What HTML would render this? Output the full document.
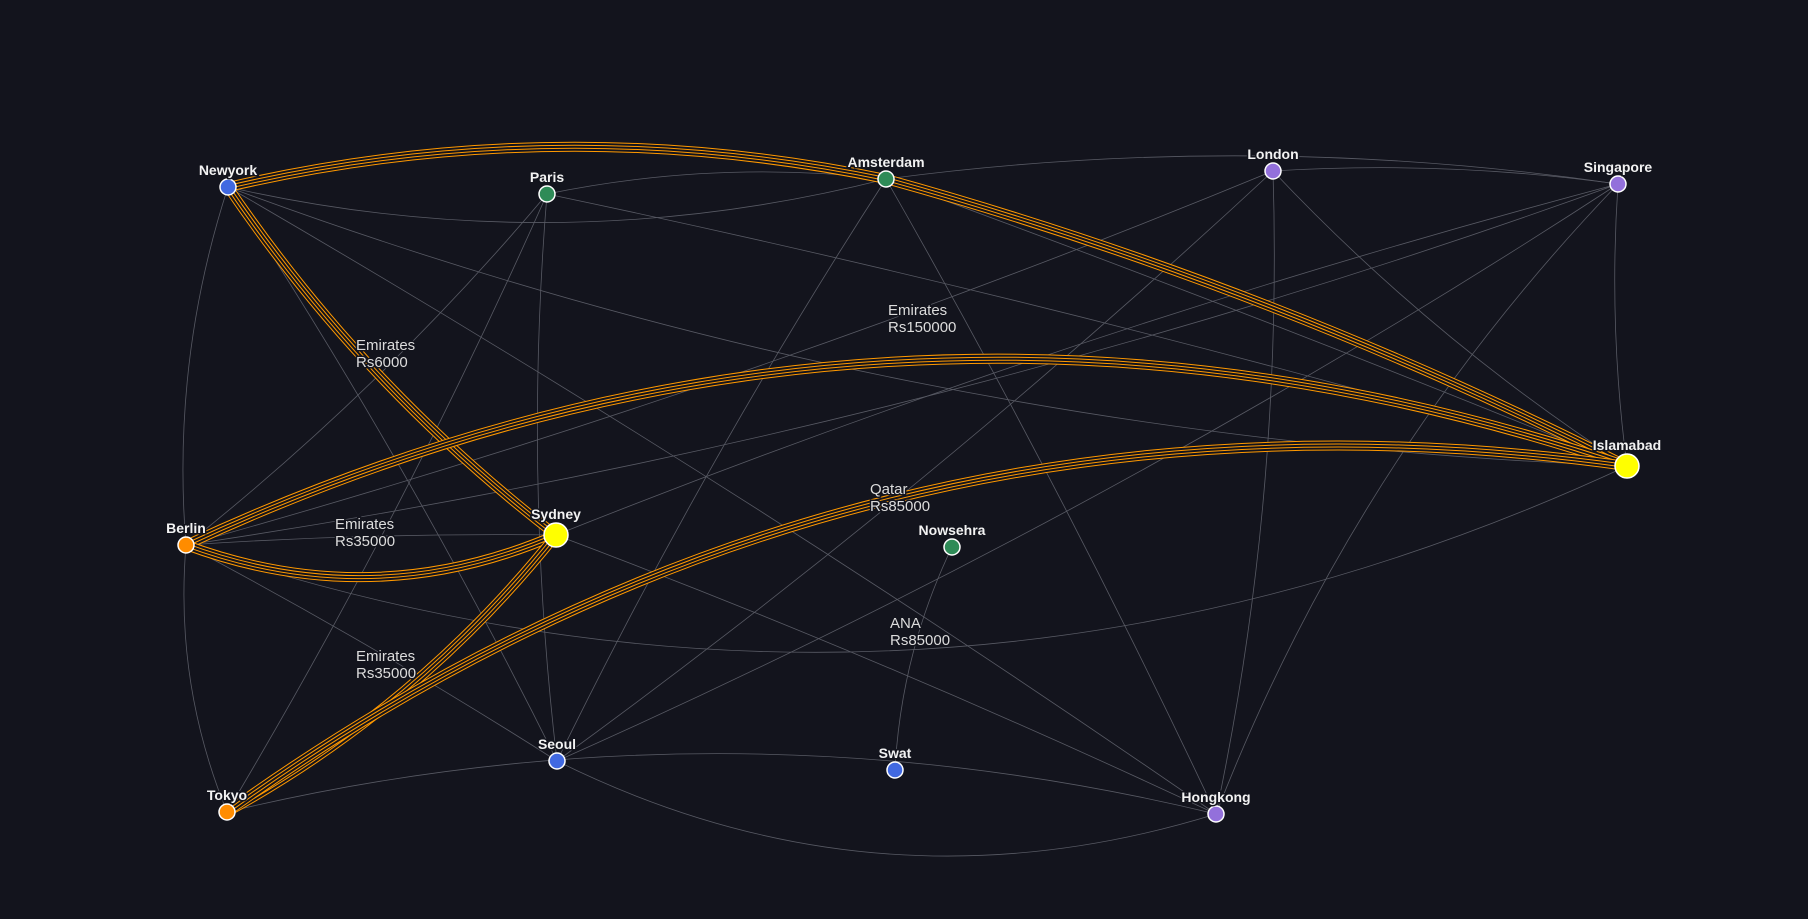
<!DOCTYPE html>
<html><head><meta charset="utf-8"><style>
html,body{margin:0;padding:0;background:#13141d;}
svg{display:block;}
.nl{font-family:"Liberation Sans",sans-serif;font-weight:bold;font-size:14px;fill:#f2f2f2;stroke:#13141d;stroke-width:3px;paint-order:stroke;text-anchor:middle;}
.el{font-family:"Liberation Sans",sans-serif;font-size:15px;fill:#dcdcdc;stroke:#13141d;stroke-width:3px;paint-order:stroke;}
</style></head><body>
<svg id="chart" width="1808" height="919" viewBox="0 0 1808 919">
<rect width="1808" height="919" fill="#13141d"/>
<g id="edges"></g><g id="hl"></g><g id="elabels"></g><g id="nodes"></g>
</svg>
<script>
const nodeNames=["Newyork","Paris","Amsterdam","London","Singapore","Islamabad","Berlin","Sydney","Nowsehra","Seoul","Swat","Tokyo","Hongkong"];
const nodeX=[228,547,886,1273,1618,1627,186,556,952,557,895,227,1216];
const nodeY=[187,194,179,171,184,466,545,535,547,761,770,812,814];
const nodeColors=["#4169e1","#2e8b57","#2e8b57","#9370db","#9370db","#ffff00","#ff8c00","#ffff00","#2e8b57","#4169e1","#4169e1","#ff8c00","#9370db"];
const nodeBig=[0,0,0,0,0,1,0,1,0,0,0,0,0];
const grayEdges=[["Newyork","Amsterdam",-0.12],["Paris","Amsterdam",0.08],["Amsterdam","Singapore",0.07],["Newyork","Berlin",-0.1],["Berlin","Tokyo",-0.12],["Tokyo","Hongkong",0.12],["Seoul","Hongkong",-0.2],["Berlin","Islamabad",-0.2],["Newyork","Islamabad",-0.08],["Paris","Islamabad",0.02],["Amsterdam","Hongkong",0.02],["London","Hongkong",0.06],["Singapore","Hongkong",-0.1],["London","Seoul",0.03],["Singapore","Seoul",0.04],["Amsterdam","Seoul",-0.03],["Singapore","Berlin",0.05],["London","Berlin",0.03],["Paris","Berlin",0.05],["Paris","Seoul",-0.05],["Newyork","Seoul",0.03],["Newyork","Hongkong",0.02],["Sydney","Hongkong",0.02],["Sydney","Singapore",0.03],["Nowsehra","Swat",-0.1],["Berlin","Seoul",0.02],["Tokyo","Paris",-0.03],["London","Islamabad",-0.06],["Singapore","Islamabad",-0.05],["Amsterdam","Islamabad",0.01],["Berlin","Sydney",0.02],["London","Singapore",0.05]];
const hlEdges=[["Newyork","Amsterdam",0.11],["Amsterdam","Islamabad",0.05],["Newyork","Sydney",-0.08],["Berlin","Islamabad",0.2],["Berlin","Sydney",-0.2],["Sydney","Tokyo",0.1],["Tokyo","Islamabad",0.2]];
const edgeLabelText=[["Emirates","Rs6000"],["Emirates","Rs150000"],["Emirates","Rs35000"],["Qatar","Rs85000"],["ANA","Rs85000"],["Emirates","Rs35000"]];
const edgeLabelX=[356,888,335,870,890,356];
const edgeLabelY=[350,315,529,494,628,661];
const NS="http://www.w3.org/2000/svg";
function idx(n){return nodeNames.indexOf(n);}
function pathD(a,b,c){const i=idx(a),j=idx(b);const x1=nodeX[i],y1=nodeY[i],x2=nodeX[j],y2=nodeY[j];const dx=x2-x1,dy=y2-y1,L=Math.hypot(dx,dy);const mx=(x1+x2)/2+dy/L*c*L,my=(y1+y2)/2-dx/L*c*L;return `M${x1},${y1} Q${mx},${my} ${x2},${y2}`;}
const ge=document.getElementById('edges');
grayEdges.forEach(e=>{const p=document.createElementNS(NS,'path');p.setAttribute('d',pathD(e[0],e[1],e[2]));p.setAttribute('fill','none');p.setAttribute('stroke','#585a64');p.setAttribute('stroke-width','0.8');


ge.appendChild(p);});
const gh=document.getElementById('hl');
hlEdges.forEach(e=>{const g=document.createElementNS(NS,'g');


[[10,'#ff9900'],[8,'#13141d'],[4,'#ff9900'],[2,'#13141d']].forEach(s=>{const p=document.createElementNS(NS,'path');p.setAttribute('d',pathD(e[0],e[1],e[2]));p.setAttribute('fill','none');p.setAttribute('stroke',s[1]);p.setAttribute('stroke-width',s[0]);g.appendChild(p);});
gh.appendChild(g);});
const gl=document.getElementById('elabels');
edgeLabelText.forEach((t,k)=>{const tx=document.createElementNS(NS,'text');tx.setAttribute('class','el');tx.setAttribute('x',edgeLabelX[k]);tx.setAttribute('y',edgeLabelY[k]);


t.forEach((s,m)=>{const ts=document.createElementNS(NS,'tspan');ts.setAttribute('x',edgeLabelX[k]);ts.setAttribute('dy',m?17:0);ts.textContent=s;tx.appendChild(ts);});gl.appendChild(tx);});
const gn=document.getElementById('nodes');
nodeNames.forEach((n,i)=>{const r=nodeBig[i]?12:8;const c=document.createElementNS(NS,'circle');c.setAttribute('cx',nodeX[i]);c.setAttribute('cy',nodeY[i]);c.setAttribute('r',r);c.setAttribute('fill',nodeColors[i]);c.setAttribute('stroke','#fff');c.setAttribute('stroke-width','1.5');


gn.appendChild(c);
const t=document.createElementNS(NS,'text');t.setAttribute('class','nl');t.setAttribute('x',nodeX[i]);t.setAttribute('y',nodeY[i]-r-4);t.textContent=n;


gn.appendChild(t);});
</script>
</body></html>
